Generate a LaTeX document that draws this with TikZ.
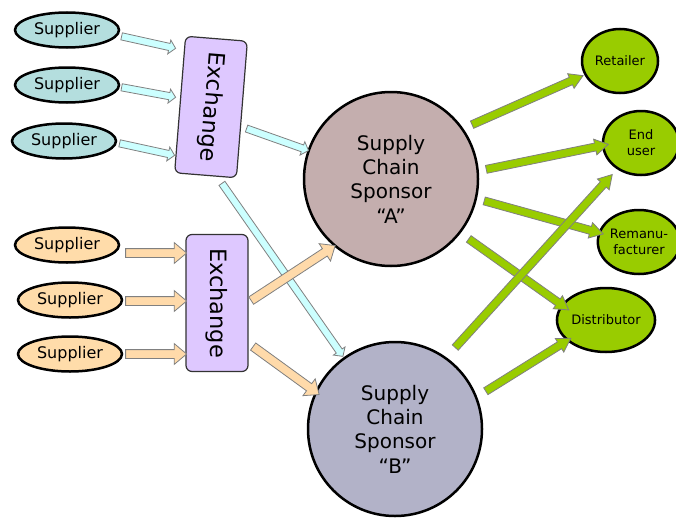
\documentclass[tikz,border=0pt]{standalone}
\usepackage{fontspec}
\setmainfont{DejaVu Sans}
\usetikzlibrary{shapes.geometric,shapes.arrows,calc}
\definecolor{supB}{RGB}{180,222,222}
\definecolor{supO}{RGB}{255,220,170}
\definecolor{exch}{RGB}{222,200,255}
\definecolor{arrB}{RGB}{204,255,255}
\definecolor{arrO}{RGB}{255,218,170}
\definecolor{grn}{RGB}{153,204,0}
\definecolor{spA}{RGB}{196,174,174}
\definecolor{spB}{RGB}{178,178,200}
\newcommand\blockarrow[3]{%
  \path let \p1=($(#3)-(#2)$), \n1={atan2(\y1,\x1)}, \n2={veclen(\x1,\y1)} in
    node[#1, rotate=\n1, minimum height=\n2] at ($(#2)!0.5!(#3)$) {};}
\begin{document}
\begin{tikzpicture}[x=1pt,y=-1pt,
  sup/.style={ellipse, draw=black, line width=2.5pt, minimum width=104, minimum height=35, inner sep=0, font=\fontsize{16}{19}\selectfont},
  exbox/.style={rectangle, rounded corners=6, draw=black!80, line width=1.2pt, fill=exch, minimum width=137, minimum height=62, inner sep=0, font=\fontsize{22.5}{26}\selectfont},
  sponsor/.style={circle, draw=black, line width=2.5pt, minimum size=174, inner sep=0, align=center, font=\fontsize{20}{24.3}\selectfont},
  dest/.style={ellipse, draw=black, line width=2.5pt, fill=grn, minimum width=76, minimum height=64, inner sep=0, align=center, font=\fontsize{13}{16}\selectfont},
  barr/.style={single arrow, draw=gray, line width=0.8pt, inner xsep=0, single arrow head indent=0},
  arrblue/.style={barr, fill=arrB, inner ysep=3.2, single arrow head extend=3.5, single arrow tip angle=95},
  arrorange/.style={barr, fill=arrO, inner ysep=4, single arrow head extend=6, single arrow tip angle=80},
  arrgreen/.style={barr, fill=grn, inner ysep=3.6, single arrow head extend=4, single arrow tip angle=62}]
\useasboundingbox (0,0) rectangle (676,519);
% nodes
\node[sup, fill=supB] (s1) at (67,30) {Supplier};
\node[sup, fill=supB] (s2) at (67,85) {Supplier};
\node[sup, fill=supB] (s3) at (64,141) {Supplier};
\node[sup, fill=supO] (o1) at (67,245) {Supplier};
\node[sup, fill=supO] (o2) at (70,300) {Supplier};
\node[sup, fill=supO] (o3) at (70,354) {Supplier};
\node[exbox, rotate=-94.6] (ex1) at (211,107) {Exchange};
\node[exbox, rotate=-90] (ex2) at (217,303) {Exchange};
\node[sponsor, fill=spA] (spa) at (391,179) {Supply\\Chain\\Sponsor\\“A”};
\node[sponsor, fill=spB] (spb) at (395,429) {Supply\\Chain\\Sponsor\\“B”};
\node[dest] (ret) at (620,61) {Retailer};
\node[dest] (end) at (641,143) {End\\user};
\node[dest] (rem) at (639,242) {Remanu-\\facturer};
\node[dest] (dis) at (606,320) {Distributor};
% arrow end points
\coordinate (a1) at (120,36);  \coordinate (b1) at (174,48);
\coordinate (a2) at (120,87);  \coordinate (b2) at (174,97);
\coordinate (a3) at (118,143); \coordinate (b3) at (173,155);
\coordinate (a4) at (245,128); \coordinate (b4) at (307,150);
\coordinate (a5) at (221,182); \coordinate (b5) at (342,355);
\coordinate (c1) at (123,253); \coordinate (d1) at (184,253);
\coordinate (c2) at (123,301); \coordinate (d2) at (184,301);
\coordinate (c3) at (123,354); \coordinate (d3) at (184,354);
\coordinate (c4) at (249,302); \coordinate (d4) at (333,247);
\coordinate (c5) at (251,345); \coordinate (d5) at (317,393);
\coordinate (g1) at (469,126); \coordinate (h1) at (580,77);
\coordinate (g2) at (483,170); \coordinate (h2) at (605,145);
\coordinate (g3) at (481,200); \coordinate (h3) at (600,233);
\coordinate (g4) at (466,237); \coordinate (h4) at (566,308);
\coordinate (g5) at (453,350); \coordinate (h5) at (610,177);
\coordinate (g6) at (483,393); \coordinate (h6) at (568,340);
% arrows
\blockarrow{arrblue}{a1}{b1}
\blockarrow{arrblue}{a2}{b2}
\blockarrow{arrblue}{a3}{b3}
\blockarrow{arrblue}{a4}{b4}
\blockarrow{arrblue}{a5}{b5}
\blockarrow{arrorange}{c1}{d1}
\blockarrow{arrorange}{c2}{d2}
\blockarrow{arrorange}{c3}{d3}
\blockarrow{arrorange}{c4}{d4}
\blockarrow{arrorange}{c5}{d5}
\blockarrow{arrgreen}{g1}{h1}
\blockarrow{arrgreen}{g2}{h2}
\blockarrow{arrgreen}{g3}{h3}
\blockarrow{arrgreen}{g4}{h4}
\blockarrow{arrgreen}{g5}{h5}
\blockarrow{arrgreen}{g6}{h6}
\end{tikzpicture}
\end{document}
